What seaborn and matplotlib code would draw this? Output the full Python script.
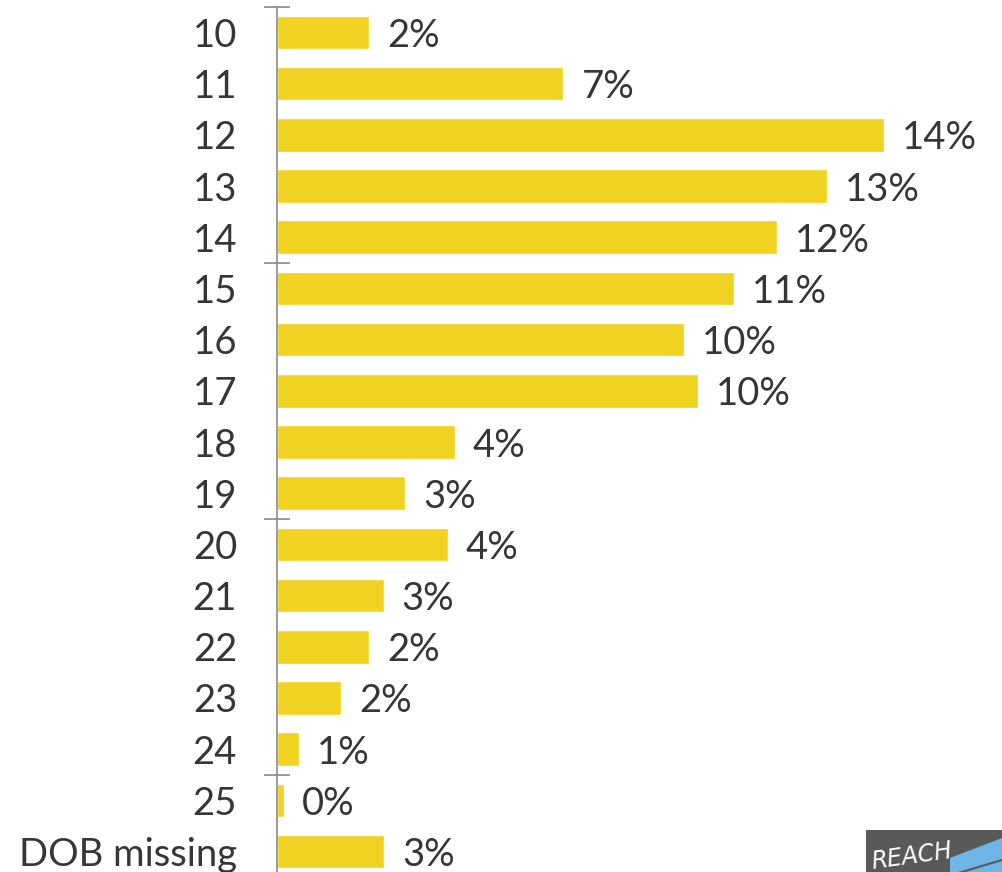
import matplotlib
matplotlib.use("Agg")
import matplotlib.pyplot as plt
from matplotlib.patches import Rectangle, Polygon
from matplotlib.lines import Line2D
import seaborn as sns
import pandas as pd

# Share of cases by age at intake
ages = ["10", "11", "12", "13", "14", "15", "16", "17", "18", "19",
        "20", "21", "22", "23", "24", "25", "DOB missing"]
shares = [2.19, 6.81, 14.45, 13.08, 11.89, 10.87, 9.68, 10.02, 4.23, 3.04,
          4.06, 2.53, 2.19, 1.51, 0.51, 0.15, 2.54]

BAR_COLOR = "#F0D220"
TEXT_COLOR = "#363636"
AXIS_COLOR = "#8A8A8A"

sns.set_theme(style="white")
plt.rcParams["font.family"] = ["Lato", "DejaVu Sans"]

df = pd.DataFrame({"age": ages, "share": shares})

W, H = 1002, 872
fig = plt.figure(figsize=(W / 100, H / 100), dpi=100)
x0 = 277.3
top_px = 6.9
ax = fig.add_axes([x0 / W, 0, 1 - x0 / W, (H - top_px) / H])

sns.barplot(data=df, y="age", x="share", orient="h", color=BAR_COLOR,
            saturation=1, width=0.656, ax=ax)

ax.set_xlim(0, (W - x0) / 42.0)
ax.set_ylim(16.40, -0.5)

for c in ax.containers:
    texts = ax.bar_label(c, labels=[f"{v:.0f}%" for v in shares], padding=13,
                         fontsize=27.5, color=TEXT_COLOR)
    for t in texts:
        t.set_verticalalignment("center_baseline")

ax.set_xlabel("")
ax.set_ylabel("")
ax.set_xticks([])
ax.tick_params(axis="y", length=0, pad=29, labelsize=27.5,
               labelcolor=TEXT_COLOR)
for lbl in ax.get_yticklabels():
    lbl.set_verticalalignment("center_baseline")
ax.set_yticks([-0.5, 4.5, 9.5, 14.5], minor=True)
ax.tick_params(axis="y", which="minor", left=True, direction="inout",
               length=19, width=1.2, color=AXIS_COLOR)

for side in ["top", "right", "bottom"]:
    ax.spines[side].set_visible(False)
ax.spines["left"].set_color(AXIS_COLOR)
ax.spines["left"].set_linewidth(1.2)

# corner logo
def fx(px):
    return px / W

def fy(py):
    return 1 - py / H

badge = Rectangle((fx(866), fy(872)), fx(1002) - fx(866), fy(830) - fy(872),
                  transform=fig.transFigure, facecolor="#595959",
                  edgecolor="none")
fig.add_artist(badge)
stripe = Polygon([(fx(950), fy(872)), (fx(950), fy(858)), (fx(1002), fy(838)),
                  (fx(1002), fy(872))], closed=True, transform=fig.transFigure,
                 facecolor="#6DB6E6", edgecolor="none")
fig.add_artist(stripe)
fig.add_artist(Line2D([fx(955), fx(1002)], [fy(874), fy(860)],
                      transform=fig.transFigure, color="#595959", lw=1.5))
fig.text(fx(870), fy(869), "REACH", color="white", fontsize=17,
         fontstyle="italic", rotation=8, ha="left", va="baseline",
         family=["DejaVu Sans"])

fig.savefig("out.png", dpi=100)
